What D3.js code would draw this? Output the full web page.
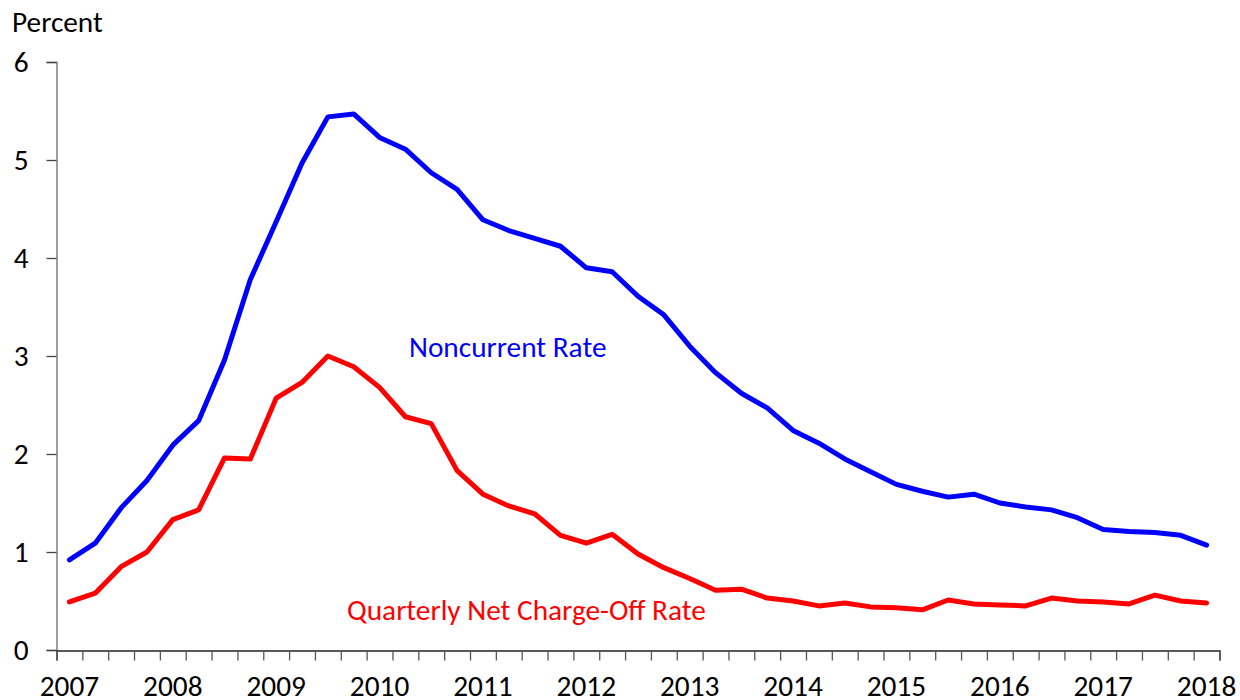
<!DOCTYPE html>
<html>
<head>
<meta charset="utf-8">
<script src="https://cdn.jsdelivr.net/npm/d3@7"></script>
<style>
  body { margin: 0; background: #fff; }
  text { font-family: Calibri, Carlito, "Open Sans", sans-serif; }
</style>
</head>
<body>
<script>
// quarterly data, 2007 Q1 .. 2018 Q1
var years = ["2007", "2008", "2009", "2010", "2011", "2012", "2013", "2014", "2015", "2016", "2017", "2018"];
var quarters = [];  // "2007Q1" ...
years.forEach(function (y, i) {
    var n = i == years.length - 1 ? 1 : 4;
    for (var q = 1; q <= n; q++) quarters.push(y + "Q" + q);
});
var noncurrent = [0.92, 1.09, 1.45, 1.73, 2.09, 2.34, 2.96, 3.78, 4.37, 4.97, 5.44, 5.47,
    5.23, 5.11, 4.87, 4.70, 4.39, 4.28, 4.20, 4.12, 3.90, 3.86, 3.61, 3.42,
    3.10, 2.83, 2.62, 2.47, 2.24, 2.11, 1.95, 1.82, 1.69, 1.62, 1.56, 1.59,
    1.50, 1.46, 1.43, 1.35, 1.23, 1.21, 1.20, 1.17, 1.07];
var chargeoff = [0.49, 0.58, 0.85, 1.00, 1.33, 1.43, 1.96, 1.95, 2.57, 2.73, 3.00, 2.89,
    2.68, 2.38, 2.31, 1.83, 1.59, 1.47, 1.39, 1.17, 1.09, 1.18, 0.98, 0.84,
    0.73, 0.61, 0.62, 0.53, 0.50, 0.45, 0.48, 0.44, 0.43, 0.41, 0.51, 0.47,
    0.46, 0.45, 0.53, 0.50, 0.49, 0.47, 0.56, 0.50, 0.48];
var yTicks = [0, 1, 2, 3, 4, 5, 6];
var fs = 29.3;  // font size (Calibri 22pt)

var svg = d3.select("body").append("svg")
    .attr("width", 1240)
    .attr("height", 700);

var x = d3.scaleLinear()  // category slots, ticks on boundaries
    .domain([0, quarters.length])
    .range([56.5, 1219.5]);
var y = d3.scaleLinear()
    .domain([0, 6])
    .range([650, 62]);

// y axis
var yAxis = svg.append("g")
    .attr("transform", "translate(56.5,0)")
    .call(d3.axisLeft(y).tickValues(yTicks).tickSize(10).tickPadding(18).tickFormat(d3.format("d")));
yAxis.select(".domain").attr("stroke", "#6b6b6b").attr("stroke-width", 1.3);
yAxis.selectAll(".tick line").attr("stroke", "#444").attr("stroke-width", 1.3);
yAxis.selectAll(".tick text").attr("font-size", fs).attr("fill", "#000")
    .attr("font-family", "Calibri, Carlito, 'Open Sans', sans-serif");

// x axis
var xAxis = svg.append("g")
    .attr("transform", "translate(0,650.5)")
    .call(d3.axisBottom(x).tickValues(d3.range(quarters.length + 1)).tickSize(10).tickFormat(""));
xAxis.select(".domain").attr("stroke", "#222").attr("stroke-width", 1.3);
xAxis.selectAll(".tick line").attr("stroke", "#555").attr("stroke-width", 1.3);

svg.append("g")
    .selectAll("text")
    .data(years)
    .enter()
    .append("text")
    .attr("x", function (d, i) { return x(i * 4 + 0.5); })
    .attr("y", 696)
    .attr("text-anchor", "middle")
    .attr("font-size", fs)
    .attr("fill", "#000")
    .text(function (d) { return d; });

svg.append("text")  // axis title
    .attr("x", 12)
    .attr("y", 32)
    .attr("font-size", fs)
    .attr("fill", "#000")
    .text("Percent");

var line = d3.line()
    .x(function (d, i) { return x(i + 0.5); })
    .y(function (d) { return y(d); });

svg.append("path")
    .datum(noncurrent)
    .attr("d", line)
    .attr("fill", "none")
    .attr("stroke", "#0000ff")
    .attr("stroke-width", 5)
    .attr("stroke-linejoin", "round")
    .attr("stroke-linecap", "round");

svg.append("path")
    .datum(chargeoff)
    .attr("d", line)
    .attr("fill", "none")
    .attr("stroke", "#ff0000")
    .attr("stroke-width", 5)
    .attr("stroke-linejoin", "round")
    .attr("stroke-linecap", "round");

// series labels
svg.append("text")
    .attr("x", 409)
    .attr("y", 357)
    .attr("font-size", fs)
    .attr("fill", "#0000ff")
    .text("Noncurrent Rate");
svg.append("text")
    .attr("x", 347)
    .attr("y", 620)
    .attr("font-size", fs)
    .attr("fill", "#ff0000")
    .text("Quarterly Net Charge-Off Rate");
</script>
</body>
</html>
